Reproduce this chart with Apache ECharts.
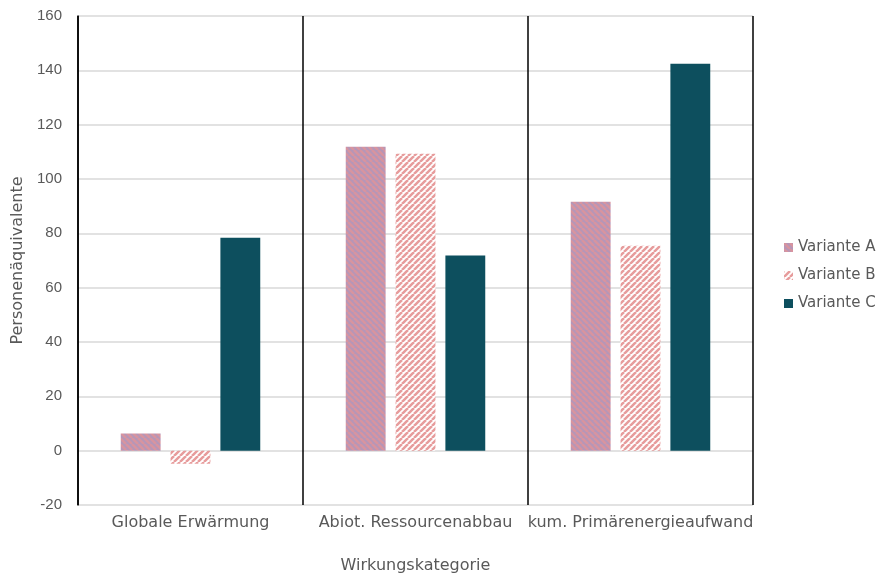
<!DOCTYPE html>
<html>
<head>
<meta charset="utf-8">
<script src="https://cdn.jsdelivr.net/npm/echarts@6/dist/echarts.min.js"></script>
<style>
html, body { margin: 0; padding: 0; background: #fff; }
#chart { width: 877px; height: 578px; }
</style>
</head>
<body>
<div id="chart"></div>
<script>
var categories = ['Globale Erwärmung', 'Abiot. Ressourcenabbau', 'kum. Primärenergieaufwand'];
var varianteA = [6.3, 111.9, 91.6];
var varianteB = [-4.8, 109.3, 75.4];
var varianteC = [78.4, 71.8, 142.4];
var yTicks = { min: -20, max: 160, interval: 20 };

// diagonal stripe fills, drawn once on small canvases
function stripes(bg, fg, size, dir) {
    var c = document.createElement('canvas');
    c.width = size; c.height = size;
    var g = c.getContext('2d');
    g.fillStyle = bg;
    g.fillRect(0, 0, size, size);
    g.strokeStyle = fg;
    g.lineWidth = size / 2.4;
    g.beginPath();
    for (var k = -1; k <= 1; k++) {
        if (dir > 0) {
            g.moveTo(k * size, size); g.lineTo(k * size + size, 0);
        } else {
            g.moveTo(k * size, 0); g.lineTo(k * size + size, size);
        }
    }
    g.stroke();
    return { image: c, repeat: 'repeat' };
}

var fillA = stripes('#b596b8', '#d8949f', 6, -1);
var fillB = stripes('#ffffff', '#e79c9c', 6, 1);
var fillC = '#0d4f5e';

var txt = '#595959';
var wide = 'DejaVu Sans, sans-serif';

echarts.init(document.getElementById('chart')).setOption({
    animation: false,
    textStyle: { fontFamily: 'Liberation Sans, Arial, sans-serif' },
    grid: {
        left: 78,
        right: 124,
        top: 16,
        bottom: 73,
        outerBoundsMode: 'none'
    },
    legend: {
        orient: 'vertical',
        left: 779,
        top: 235,
        itemWidth: 9,
        itemHeight: 9,
        itemGap: 13,
        icon: 'rect',
        textStyle: { color: txt, fontSize: 15, fontFamily: wide },
        data: ['Variante A', 'Variante B', 'Variante C']
    },
    xAxis: {
        type: 'category',
        data: categories,
        name: 'Wirkungskategorie',
        nameLocation: 'middle',
        nameGap: 53,
        nameTextStyle: { color: txt, fontSize: 16, fontFamily: wide },
        axisLine: { show: false },
        axisTick: { show: false },
        axisLabel: { color: txt, fontSize: 16, margin: 10, interval: 0, fontFamily: wide },
        splitLine: { show: true, interval: 0, lineStyle: { color: '#000', width: 1.5 } }
    },
    yAxis: {
        type: 'value',
        min: yTicks.min,
        max: yTicks.max,
        interval: yTicks.interval,
        name: 'Personenäquivalente',
        nameLocation: 'middle',
        nameGap: 52,
        nameTextStyle: { color: txt, fontSize: 16, fontFamily: wide },
        axisLine: { show: true, lineStyle: { color: '#000', width: 1.5 } },
        axisTick: { show: false },
        axisLabel: { color: txt, fontSize: 15, margin: 16 },
        splitLine: { lineStyle: { color: '#d9d9d9', width: 1.5 } }
    },
    series: [
        {
            name: 'Variante A',
            type: 'bar',
            data: varianteA,
            itemStyle: { color: fillA },
            barGap: '25%',
            barCategoryGap: '38%'
        },
        {
            name: 'Variante B',
            type: 'bar',
            data: varianteB,
            itemStyle: { color: fillB }
        },
        {
            name: 'Variante C',
            type: 'bar',
            data: varianteC,
            itemStyle: { color: fillC }
        }
    ]
});
</script>
</body>
</html>
